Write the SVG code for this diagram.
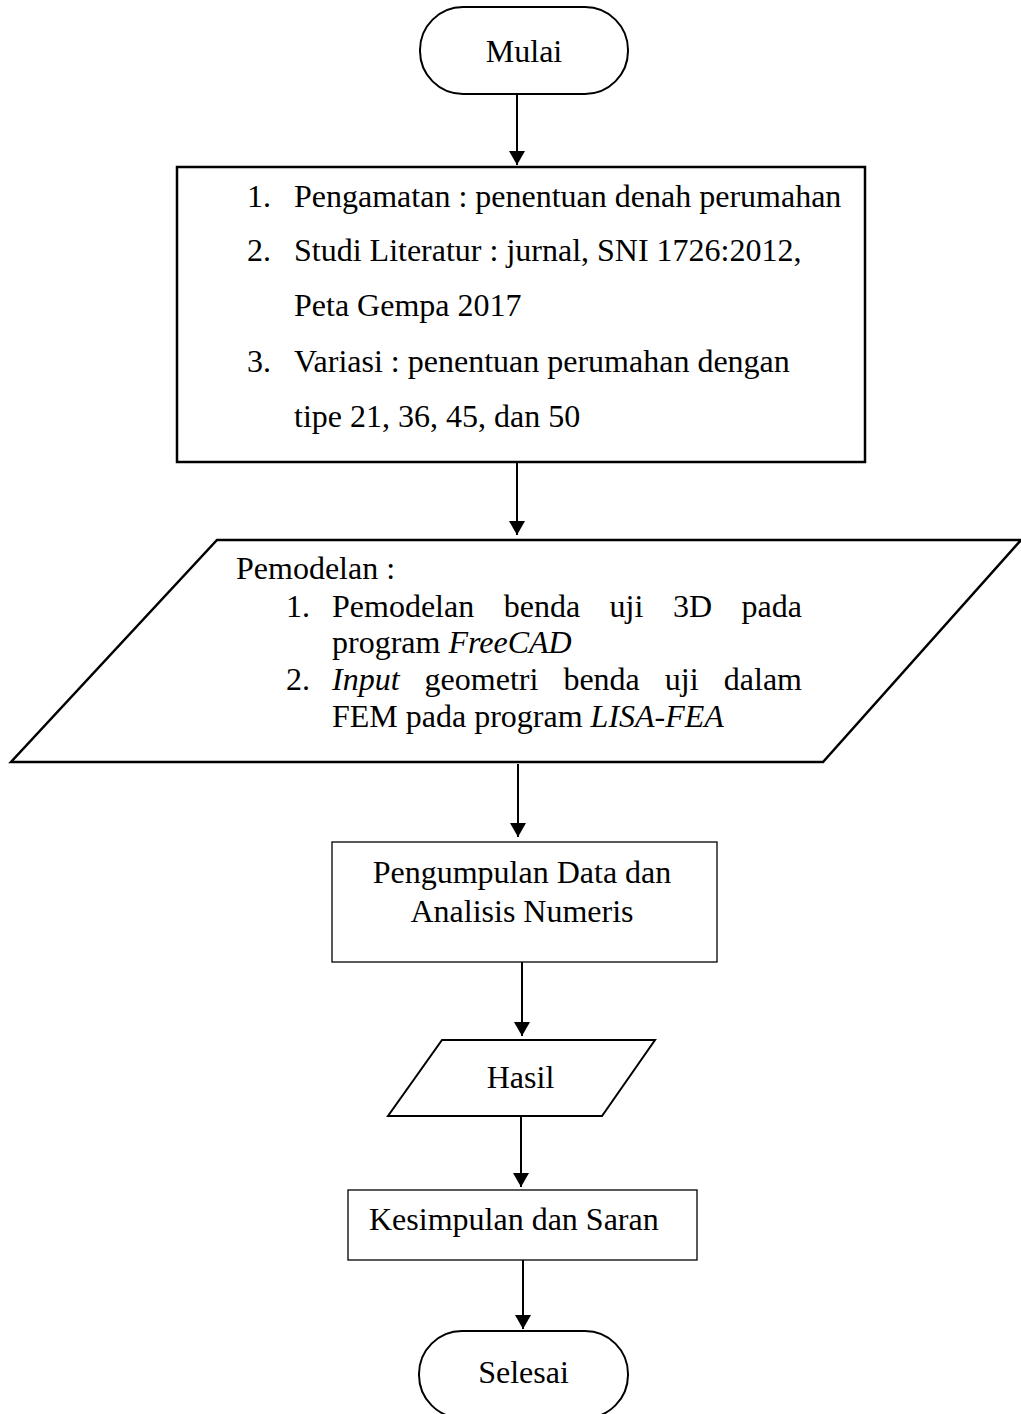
<svg xmlns="http://www.w3.org/2000/svg" width="1021" height="1414" viewBox="0 0 1021 1414">
<style>
text { font-family: "Liberation Serif", "Times New Roman", serif; font-size: 32px; fill: #000; }
.it { font-style: italic; }
.shape { fill: #fff; stroke: #000; }
.thick { stroke-width: 2.5; }
.thin { stroke-width: 1.3; }
.conn { stroke: #000; stroke-width: 2; fill: none; }
</style>
<defs>
<marker id="arrow" markerUnits="userSpaceOnUse" markerWidth="16" markerHeight="16" refX="14" refY="8" orient="auto">
<path d="M0,0 L14,8 L0,16 z" fill="#000"/>
</marker>
</defs>
<rect width="1021" height="1414" fill="#fff"/>

<g id="connectors">
<line class="conn" x1="517" y1="94" x2="517" y2="165" marker-end="url(#arrow)"/>
<line class="conn" x1="517" y1="463" x2="517" y2="535" marker-end="url(#arrow)"/>
<line class="conn" x1="518" y1="764" x2="518" y2="837" marker-end="url(#arrow)"/>
<line class="conn" x1="522" y1="962" x2="522" y2="1036" marker-end="url(#arrow)"/>
<line class="conn" x1="521" y1="1117" x2="521" y2="1187" marker-end="url(#arrow)"/>
<line class="conn" x1="523" y1="1260" x2="523" y2="1329" marker-end="url(#arrow)"/>
</g>

<g id="mulai">
<rect class="shape" x="420" y="7" width="208" height="87" rx="43" ry="43" stroke-width="2"/>
<text x="524" y="62" text-anchor="middle">Mulai</text>
</g>

<g id="studi">
<rect class="shape thick" x="177" y="167" width="688" height="295"/>
<text x="247" y="207">1.</text>
<text x="294" y="207">Pengamatan : penentuan denah perumahan</text>
<text x="247" y="261">2.</text>
<text x="294" y="261">Studi Literatur : jurnal, SNI 1726:2012,</text>
<text x="294" y="316">Peta Gempa 2017</text>
<text x="247" y="372">3.</text>
<text x="294" y="372">Variasi : penentuan perumahan dengan</text>
<text x="294" y="427">tipe 21, 36, 45, dan 50</text>
</g>

<g id="pemodelan">
<polygon class="shape thick" points="217,540 1021,540 823,762 11,762"/>
<text x="236" y="579">Pemodelan :</text>
<text x="286" y="617">1.</text>
<text y="617"><tspan x="332">Pemodelan</tspan><tspan x="503.7">benda</tspan><tspan x="609.6">uji</tspan><tspan x="672.9">3D</tspan><tspan x="802" text-anchor="end">pada</tspan></text>
<text x="332" y="653">program <tspan class="it">FreeCAD</tspan></text>
<text x="286" y="690">2.</text>
<text y="690"><tspan x="332" class="it">Input</tspan><tspan x="424.6">geometri</tspan><tspan x="563.4">benda</tspan><tspan x="664.8">uji</tspan><tspan x="802" text-anchor="end">dalam</tspan></text>
<text x="332" y="727">FEM pada program <tspan class="it">LISA-FEA</tspan></text>
</g>

<g id="pengumpulan">
<rect class="shape thin" x="332" y="842" width="385" height="120"/>
<text x="522" y="883" text-anchor="middle">Pengumpulan Data dan</text>
<text x="522" y="922" text-anchor="middle">Analisis Numeris</text>
</g>

<g id="hasil">
<polygon class="shape" stroke-width="2" points="442,1040 655,1040 602,1116 388,1116"/>
<text x="520.5" y="1088" text-anchor="middle">Hasil</text>
</g>

<g id="kesimpulan">
<rect class="shape thin" x="348" y="1190" width="349" height="70"/>
<text x="369" y="1230">Kesimpulan dan Saran</text>
</g>

<g id="selesai">
<rect class="shape" x="419" y="1331" width="209" height="87" rx="43" ry="43" stroke-width="2"/>
<text x="523.5" y="1383" text-anchor="middle">Selesai</text>
</g>
</svg>
